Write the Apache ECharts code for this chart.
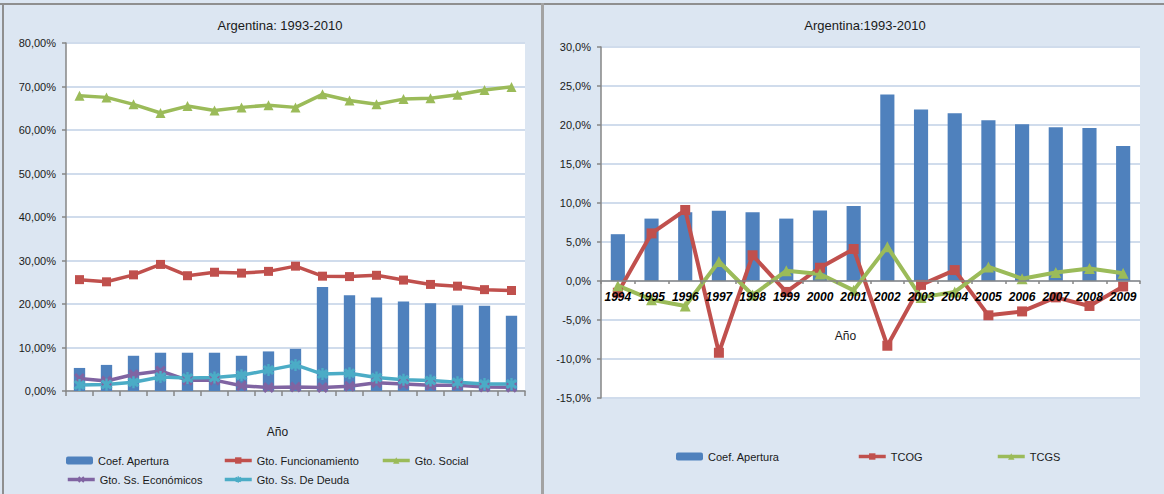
<!DOCTYPE html>
<html>
<head>
<meta charset="utf-8">
<title>Argentina: 1993-2010</title>
<script src="https://cdn.jsdelivr.net/npm/echarts@6/dist/echarts.min.js"></script>
<style>
  html, body { margin: 0; padding: 0; }
  body { width: 1164px; height: 494px; background: #dce6f2; position: relative; overflow: hidden; }
  .edge { position: absolute; background: #8f8f8f; }
  #chart { position: absolute; left: 0; top: 0; width: 1164px; height: 494px; }
</style>
</head>
<body>
<div class="edge" style="left:0;top:3px;width:1164px;height:2px;"></div>
<div class="edge" style="left:2px;top:3px;width:2px;height:491px;"></div>
<div class="edge" style="left:541px;top:3px;width:3px;height:491px;background:#a3a3a3;"></div>
<div id="chart"></div>
<script>
  // ===== 数据: 左图 1993-2009 (百分比) =====
  const years = ["1993", "1994", "1995", "1996", "1997", "1998", "1999", "2000", "2001",
                 "2002", "2003", "2004", "2005", "2006", "2007", "2008", "2009"];
  const coefApertura = [5.3, 6.0, 8.1, 8.8, 8.8, 8.8, 8.1, 9.1, 9.7, 23.9, 22.0, 21.5, 20.6, 20.2, 19.7, 19.6, 17.3];
  const gtoFuncionamiento = [25.6, 25.1, 26.7, 29.1, 26.5, 27.3, 27.1, 27.5, 28.7, 26.4, 26.3, 26.6, 25.5, 24.5, 24.1, 23.3, 23.1];
  const gtoSocial = [67.9, 67.5, 65.9, 63.9, 65.5, 64.5, 65.2, 65.7, 65.2, 68.2, 66.8, 65.9, 67.1, 67.3, 68.1, 69.2, 69.9];
  const gtoEconomicos = [2.9, 2.3, 3.8, 4.6, 2.5, 2.5, 1.2, 0.8, 0.9, 0.8, 1.1, 1.9, 1.6, 1.3, 1.3, 0.9, 0.85];
  const gtoDeuda = [1.4, 1.5, 2.0, 3.2, 3.0, 3.1, 3.6, 4.8, 6.0, 3.9, 4.1, 3.1, 2.6, 2.4, 2.0, 1.6, 1.6];

  // ===== 数据: 右图 1994-2009 =====
  const yearsTasas = ["1994", "1995", "1996", "1997", "1998", "1999", "2000", "2001",
                      "2002", "2003", "2004", "2005", "2006", "2007", "2008", "2009"];
  const coefAperturaTasas = [6.0, 8.0, 8.8, 9.0, 8.8, 8.0, 9.05, 9.6, 23.9, 22.0, 21.5, 20.6, 20.1, 19.7, 19.6, 17.3];
  const tcog = [-1.5, 6.1, 9.1, -9.2, 3.3, -1.4, 1.7, 4.1, -8.3, -0.5, 1.4, -4.4, -3.9, -2.1, -3.2, -0.7];
  const tcgs = [-0.6, -2.4, -3.2, 2.5, -1.8, 1.3, 0.9, -1.2, 4.4, -2.1, -1.4, 1.8, 0.3, 1.1, 1.6, 1.0];

  // ===== 样式 =====
  const FONT = "'Liberation Sans', Arial, sans-serif";
  const C_BAR = "#4f81bd", C_RED = "#c0504d", C_GREEN = "#9bbb59", C_PURPLE = "#8064a2", C_CYAN = "#4bacc6";
  const AXIS_GREY = "#868686", GRID_LINE = "#d0dcec";
  const SYM_X = "path://M2,0 L5,3 L8,0 L10,2 L7,5 L10,8 L8,10 L5,7 L2,10 L0,8 L3,5 L0,2 Z";
  const SYM_STAR = "path://M2,0 L5,3 L8,0 L10,2 L7,5 L10,8 L8,10 L5,7 L2,10 L0,8 L3,5 L0,2 Z M4,-1 L6,-1 L6,11 L4,11 Z";

  // 右图网格: 轴线放在 0 的位置 (用 offset, 由 min/max 推出)
  const R_MIN = -15, R_MAX = 30, R_H = 351;
  const zeroOffset = -Math.round(R_H * (0 - R_MIN) / (R_MAX - R_MIN));

  const pct = d => v => v.toFixed(d).replace(".", ",") + "%";

  function valueAxis(gridIndex, min, max, digits) {
    return {
      type: "value", gridIndex, min, max, interval: gridIndex === 0 ? 10 : 5,
      axisLine: { show: true, onZero: false, lineStyle: { color: AXIS_GREY, width: 1.5 } },
      axisTick: { show: true, length: 4, lineStyle: { color: AXIS_GREY, width: 1.5 } },
      axisLabel: { formatter: pct(digits), color: "#1a1a1a", fontSize: 11, fontFamily: FONT, margin: 10 },
      splitLine: { show: true, lineStyle: { color: GRID_LINE, width: 2 } },
    };
  }

  function lineSeries(name, data, color, symbol, size, axis) {
    return {
      name, type: "line", data, xAxisIndex: axis, yAxisIndex: axis,
      symbol, symbolSize: size, showSymbol: true,
      lineStyle: { color, width: axis === 0 ? 3.5 : 4 },
      itemStyle: { color },
      z: 3,
    };
  }

  function legendItem(name, left, top) {
    return {
      data: [name], left, top, padding: 0, itemWidth: 27, itemHeight: 8,
      lineStyle: { width: 3.5 },
      textStyle: { fontSize: 11, fontFamily: FONT, color: "#1a1a1a" },
      selectedMode: false,
    };
  }

  const chart = echarts.init(document.getElementById("chart"), null, { renderer: "svg" });
  chart.setOption({
    backgroundColor: "transparent",
    animation: false,
    title: [
      { text: "Argentina: 1993-2010", left: 275, top: 14, textAlign: "center",
        textStyle: { fontSize: 13, fontWeight: "normal", color: "#1a1a1a", fontFamily: FONT } },
      { text: "Argentina:1993-2010", left: 860, top: 14, textAlign: "center",
        textStyle: { fontSize: 13, fontWeight: "normal", color: "#1a1a1a", fontFamily: FONT } },
    ],
    grid: [
      { left: 66, top: 43, width: 459, height: 348, show: true, backgroundColor: "#fff", borderWidth: 0 },
      { left: 601, top: 47, width: 539, height: R_H, show: true, backgroundColor: "#fff", borderWidth: 0 },
    ],
    legend: [
      legendItem("Coef. Apertura", 66, 455),
      legendItem("Gto. Funcionamiento", 223, 455),
      legendItem("Gto. Social", 381, 455),
      legendItem("Gto. Ss. Económicos", 66, 474),
      legendItem("Gto. Ss. De Deuda", 223, 474),
      legendItem("TCOG", 857, 451),
      legendItem("TCGS", 996, 451),
      legendItem("Coef. Apertura", 676, 451),
    ],
    xAxis: [
      {
        type: "category", gridIndex: 0, data: years,
        axisLine: { lineStyle: { color: AXIS_GREY, width: 1.5 } },
        axisTick: { show: true, interval: 0, length: 5, lineStyle: { color: AXIS_GREY, width: 1.5 } },
        axisLabel: { show: false },
        name: "Año", nameLocation: "middle", nameGap: 35,
        nameTextStyle: { fontSize: 12, color: "#1a1a1a", fontFamily: FONT, padding: [0, 36, 0, 0] },
      },
      {
        type: "category", gridIndex: 1, data: yearsTasas, offset: zeroOffset, z: 5,
        axisLine: { onZero: false, lineStyle: { color: AXIS_GREY, width: 1.5 } },
        axisTick: { show: true, interval: 0, length: 3, lineStyle: { color: AXIS_GREY, width: 1.5 } },
        axisLabel: { interval: 0, fontSize: 12, fontWeight: "bold", fontStyle: "italic",
                     color: "#000", fontFamily: FONT, margin: 10 },
        name: "Año", nameLocation: "middle", nameGap: 49,
        nameTextStyle: { fontSize: 12, color: "#1a1a1a", fontFamily: FONT, padding: [0, 50, 0, 0] },
      },
    ],
    yAxis: [
      valueAxis(0, 0, 80, 2),
      valueAxis(1, R_MIN, R_MAX, 1),
    ],
    series: [
      { name: "Coef. Apertura", type: "bar", data: coefApertura, xAxisIndex: 0, yAxisIndex: 0,
        barWidth: "42%", itemStyle: { color: C_BAR }, z: 2 },
      lineSeries("Gto. Funcionamiento", gtoFuncionamiento, C_RED, "rect", 9, 0),
      lineSeries("Gto. Social", gtoSocial, C_GREEN, "triangle", 10, 0),
      lineSeries("Gto. Ss. Económicos", gtoEconomicos, C_PURPLE, SYM_X, 11, 0),
      lineSeries("Gto. Ss. De Deuda", gtoDeuda, C_CYAN, SYM_STAR, 12, 0),

      { name: "Coef. Apertura", type: "bar", data: coefAperturaTasas, xAxisIndex: 1, yAxisIndex: 1,
        barWidth: "42%", itemStyle: { color: C_BAR }, z: 2 },
      lineSeries("TCOG", tcog, C_RED, "rect", 10, 1),
      lineSeries("TCGS", tcgs, C_GREEN, "triangle", 11, 1),
    ],
  });
</script>
</body>
</html>
